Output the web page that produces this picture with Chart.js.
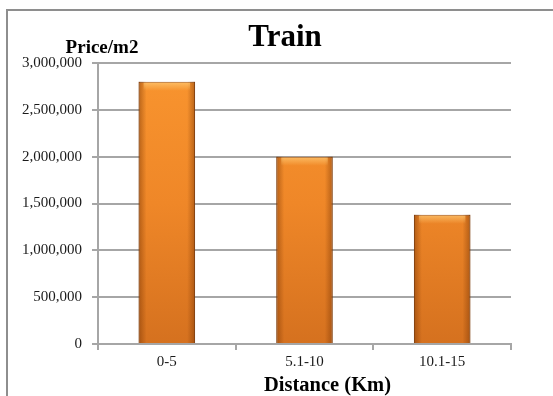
<!DOCTYPE html>
<html>
<head>
<meta charset="utf-8">
<script src="https://cdn.jsdelivr.net/npm/chart.js@4.4.0/dist/chart.umd.min.js"></script>
<style>
  html, body { margin: 0; padding: 0; background: #fff; overflow: hidden; }
  #frame { position: absolute; left: 6px; top: 9px; width: 620px; height: 500px; border: 2px solid #8e8e8e; }
  #wrap { position: absolute; left: 0; top: 0; width: 553px; height: 396px; }
</style>
</head>
<body>
<div id="frame"></div>
<div id="wrap"><canvas id="chart" width="553" height="396"></canvas></div>
<script>
// data
var distances = ["0-5", "5.1-10", "10.1-15"];
var prices = [2800000, 2000000, 1380000];
var yTicks = [0, 500000, 1000000, 1500000, 2000000, 2500000, 3000000];

var serif = "'Liberation Serif', 'Times New Roman', serif";

// chart title + axis titles placed like the original (y title horizontal above labels)
var titles = {
    id: 'titles',
    afterDraw: function(chart) {
        var ctx = chart.ctx;
        var area = chart.chartArea;
        ctx.save();
        ctx.fillStyle = '#000';
        ctx.textAlign = 'center';
        ctx.textBaseline = 'alphabetic';
        ctx.font = 'bold 31px ' + serif;
        ctx.fillText('Train', 285, 46);
        ctx.font = 'bold 19px ' + serif;
        ctx.fillText('Price/m2', area.left + 4, area.top - 10);
        ctx.font = 'bold 20.5px ' + serif;
        ctx.fillText('Distance (Km)', (area.left + area.right) / 2 + 23, 391);
        ctx.restore();
    }
};

// darker sides and a light top edge, like the bevelled bars
var bevel = {
    id: 'bevel',
    afterDatasetsDraw: function(chart) {
        var ctx = chart.ctx;
        chart.getDatasetMeta(0).data.forEach(function(bar) {
            var l = bar.x - bar.width / 2, r = bar.x + bar.width / 2;
            var t = bar.y, b = bar.base;
            var g = ctx.createLinearGradient(l, 0, r, 0);
            g.addColorStop(0, 'rgba(110,45,0,0.45)');
            g.addColorStop(0.14, 'rgba(110,45,0,0)');
            g.addColorStop(0.86, 'rgba(110,45,0,0)');
            g.addColorStop(1, 'rgba(110,45,0,0.45)');
            ctx.save();
            ctx.fillStyle = g;
            ctx.fillRect(l, t, r - l, b - t);
            var h = ctx.createLinearGradient(0, t, 0, t + 9);
            h.addColorStop(0, 'rgba(255,205,120,0.75)');
            h.addColorStop(1, 'rgba(255,205,120,0)');
            ctx.fillStyle = h;
            ctx.fillRect(l + 5, t + 1, r - l - 10, 9);
            ctx.restore();
        });
    }
};

function barFill(context) {
    var chart = context.chart;
    var area = chart.chartArea;
    if (!area) return '#f08a2a';
    var g = chart.ctx.createLinearGradient(0, area.top, 0, area.bottom);
    g.addColorStop(0, '#f9952f');
    g.addColorStop(0.5, '#ef8728');
    g.addColorStop(1, '#d5711f');
    return g;
}

var ctx = document.getElementById('chart').getContext('2d');
var chart = new Chart(ctx, {
    type: 'bar',
    data: {
        labels: distances,
        datasets: [{
            label: 'Price/m2',
            data: prices,
            backgroundColor: barFill,
            borderColor: '#8f4a12',
            borderWidth: 1,
            barPercentage: 0.41,
            categoryPercentage: 1
        }]
    },
    options: {
        responsive: false,
        animation: false,
        layout: { padding: { left: 0, right: 42, top: 63, bottom: 0 } },
        plugins: {
            legend: { display: false },
            tooltip: { enabled: false },
            title: { display: false }
        },
        scales: {
            x: {
                offset: true,
                grid: { drawOnChartArea: false, drawTicks: true, tickLength: 6, color: '#a6a6a6', lineWidth: 2, offset: true },
                border: { display: true, color: '#a6a6a6', width: 2 },
                ticks: { color: '#1a1a1a', font: { family: serif, size: 15 }, padding: 3 },
                afterFit: function(scale) { scale.height = 52; }
            },
            y: {
                min: 0,
                max: 3000000,
                afterBuildTicks: function(scale) {
                    scale.ticks = yTicks.map(function(v) { return { value: v }; });
                },
                grid: { color: '#a6a6a6', lineWidth: 2, tickLength: 6 },
                border: { display: true, color: '#a6a6a6', width: 2 },
                ticks: {
                    color: '#1a1a1a',
                    font: { family: serif, size: 15 },
                    padding: 10,
                    callback: function(v) { return Number(v).toLocaleString('en-US'); }
                },
                afterFit: function(scale) { scale.width = 98; }
            }
        }
    },
    plugins: [bevel, titles]
});
</script>
</body>
</html>
